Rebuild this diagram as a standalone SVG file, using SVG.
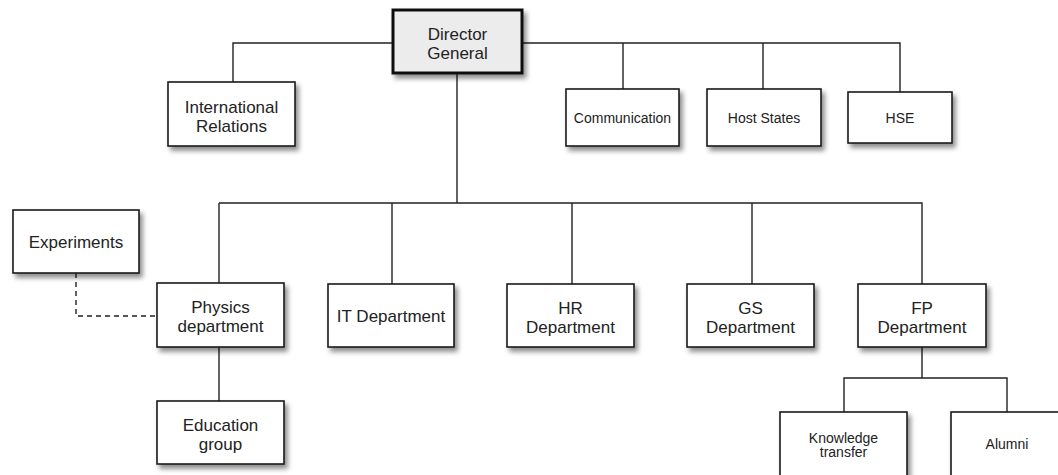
<svg xmlns="http://www.w3.org/2000/svg" width="1058" height="475" viewBox="0 0 1058 475">
<defs>
<filter id="sh" x="-20%" y="-20%" width="150%" height="160%">
<feDropShadow dx="3" dy="4" stdDeviation="2.5" flood-color="#000" flood-opacity="0.45"/>
</filter>
<style>
.box{fill:#fff;stroke:#1a1a1a;stroke-width:1.6;filter:url(#sh)}
.dg{fill:#ececec;stroke:#111;stroke-width:3;filter:url(#sh)}
.ln{fill:none;stroke:#222;stroke-width:1.4}
.dash{fill:none;stroke:#222;stroke-width:1.4;stroke-dasharray:5,4}
text{font-family:"Liberation Sans",Arial,Helvetica,sans-serif;fill:#222;text-anchor:middle}
.t{font-size:17px}
.s{font-size:14px}
</style>
</defs>
<rect width="1058" height="475" fill="#fff"/>
<g id="connectors">
<path class="ln" d="M393,43 H233 V82"/>
<path class="ln" d="M522,43 H900 V92 M623,43 V89 M763,43 V89"/>
<path class="ln" d="M457,73 V203 M219,203 H922 V284 M219,203 V283 M392,203 V284 M572,203 V284 M752,203 V284"/>
<path class="ln" d="M219,347 V401"/>
<path class="ln" d="M922,347 V378 M844,412 V378 H1007 V412"/>
<path class="dash" d="M76,273 V316 H157"/>
</g>
<g id="director-general"><rect class="dg" x="393" y="10" width="129" height="63"/><text class="t" x="457.5" y="40">Director</text><text class="t" x="457.5" y="59">General</text></g>
<g id="international-relations"><rect class="box" x="168" y="82" width="127" height="64"/><text class="t" x="231.5" y="113">International</text><text class="t" x="231.5" y="132">Relations</text></g>
<g id="communication"><rect class="box" x="566" y="89" width="113" height="57"/><text class="s" x="622.5" y="123">Communication</text></g>
<g id="host-states"><rect class="box" x="707" y="89" width="114" height="57"/><text class="s" x="764" y="123">Host States</text></g>
<g id="hse"><rect class="box" x="848" y="92" width="104" height="51"/><text class="s" x="900" y="123">HSE</text></g>
<g id="experiments"><rect class="box" x="13" y="210" width="126" height="63"/><text class="t" x="76" y="248">Experiments</text></g>
<g id="physics-department"><rect class="box" x="157" y="283" width="127" height="64"/><text class="t" x="220.5" y="313">Physics</text><text class="t" x="220.5" y="332">department</text></g>
<g id="it-department"><rect class="box" x="328" y="284" width="126" height="63"/><text class="t" x="391" y="322">IT Department</text></g>
<g id="hr-department"><rect class="box" x="507" y="284" width="127" height="63"/><text class="t" x="570.5" y="314">HR</text><text class="t" x="570.5" y="333">Department</text></g>
<g id="gs-department"><rect class="box" x="687" y="284" width="127" height="63"/><text class="t" x="750.5" y="314">GS</text><text class="t" x="750.5" y="333">Department</text></g>
<g id="fp-department"><rect class="box" x="858" y="284" width="128" height="63"/><text class="t" x="922" y="314">FP</text><text class="t" x="922" y="333">Department</text></g>
<g id="education-group"><rect class="box" x="157" y="401" width="127" height="63"/><text class="t" x="220.5" y="431">Education</text><text class="t" x="220.5" y="450">group</text></g>
<g id="knowledge-transfer"><rect class="box" x="780" y="412" width="127" height="66"/><text class="s" x="843.5" y="443">Knowledge</text><text class="s" x="843.5" y="457">transfer</text></g>
<g id="alumni"><rect class="box" x="951" y="412" width="127" height="66"/><text class="s" x="1007" y="449">Alumni</text></g>
</svg>
